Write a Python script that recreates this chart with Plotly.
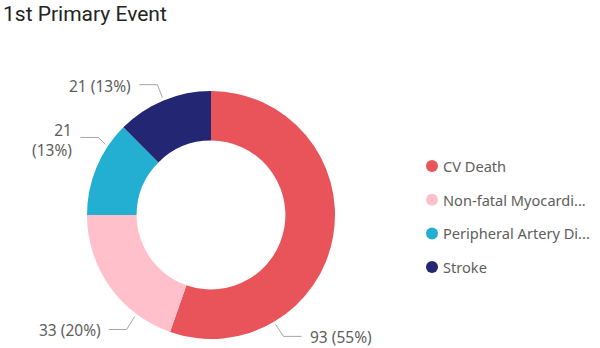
import math
import plotly.graph_objects as go

# Data
categories = ["CV Death", "Non-fatal Myocardial Infarction", "Peripheral Artery Disease", "Stroke"]
legend_names = ["CV Death", "Non-fatal Myocardi...", "Peripheral Artery Di...", "Stroke"]
counts = [93, 33, 21, 21]
colors = ["#E9545B", "#FFC0CC", "#22AFD1", "#232773"]

W, H = 600, 348
CX, CY, R = 211, 215, 124  # donut centre and outer radius in pixels


def px(x):
    return x / W


def py(y):
    return 1 - y / H


fig = go.Figure(go.Pie(
    labels=categories,
    values=counts,
    hole=0.6,
    sort=False,
    direction="clockwise",
    rotation=0,
    marker=dict(colors=colors, line=dict(width=0)),
    textinfo="none",
    hoverinfo="label+value+percent",
    showlegend=False,
    domain=dict(x=[px(CX - R), px(CX + R)], y=[py(CY + R), py(CY - R)]),
))

# Leader-line layout per slice: where along the slice the line starts,
# the elbow offset, and whether the label wraps onto two lines
anchor_frac = [0.75, 0.25, 0.75, 0.5]
elbow = [(8, 12), (-8, 13), (-7, -7), (-5, -13)]
wrap = [False, False, True, False]
HLEN, GAP = 18, 6

total = sum(counts)
shapes, annotations = [], []
cum = 0
for i, v in enumerate(counts):
    start = cum / total * 360
    span = v / total * 360
    cum += v
    ang = math.radians(start + anchor_frac[i] * span)
    x0 = CX + (R + 3) * math.sin(ang)
    y0 = CY - (R + 3) * math.cos(ang)
    ex, ey = elbow[i]
    x1, y1 = x0 + ex, y0 + ey
    side = 1 if ex > 0 else -1
    x2 = x1 + side * HLEN
    shapes.append(dict(
        type="path", xref="paper", yref="paper",
        path=f"M {px(x0)} {py(y0)} L {px(x1)} {py(y1)} L {px(x2)} {py(y1)}",
        line=dict(color="#A6A6A6", width=1),
    ))
    pct = int(v / total * 100 + 0.5)
    sep = "<br>" if wrap[i] else " "
    annotations.append(dict(
        x=px(x2 + side * GAP), y=py(y1 + (3 if wrap[i] else 1)),
        xref="paper", yref="paper",
        text=f"{v}{sep}({pct}%)",
        showarrow=False,
        xanchor="left" if side > 0 else "right",
        yanchor="middle",
        align="left" if side > 0 else "right",
        font=dict(family="Noto Sans", size=15.5, color="#605E5C"),
    ))

# Legend drawn as dots with labels
LX, LY0, LSTEP = 432, 166, 33.7
for i, name in enumerate(legend_names):
    y = LY0 + i * LSTEP
    shapes.append(dict(
        type="circle", xref="paper", yref="paper",
        x0=px(LX - 6), x1=px(LX + 6), y0=py(y + 6), y1=py(y - 6),
        fillcolor=colors[i], line=dict(width=0),
    ))
    annotations.append(dict(
        x=px(LX + 9), y=py(y), xref="paper", yref="paper",
        text=name, showarrow=False, xanchor="left", yanchor="middle",
        font=dict(family="Noto Sans", size=14.6, color="#605E5C"),
    ))

# Title
annotations.append(dict(
    x=px(1), y=py(14), xref="paper", yref="paper",
    text="1st Primary Event", showarrow=False,
    xanchor="left", yanchor="middle",
    font=dict(family="Roboto", size=21, color="#252423"),
))

fig.update_layout(
    width=W, height=H,
    margin=dict(l=0, r=0, t=0, b=0),
    paper_bgcolor="white",
    plot_bgcolor="white",
    shapes=shapes,
    annotations=annotations,
)

fig.write_html("out.html")
